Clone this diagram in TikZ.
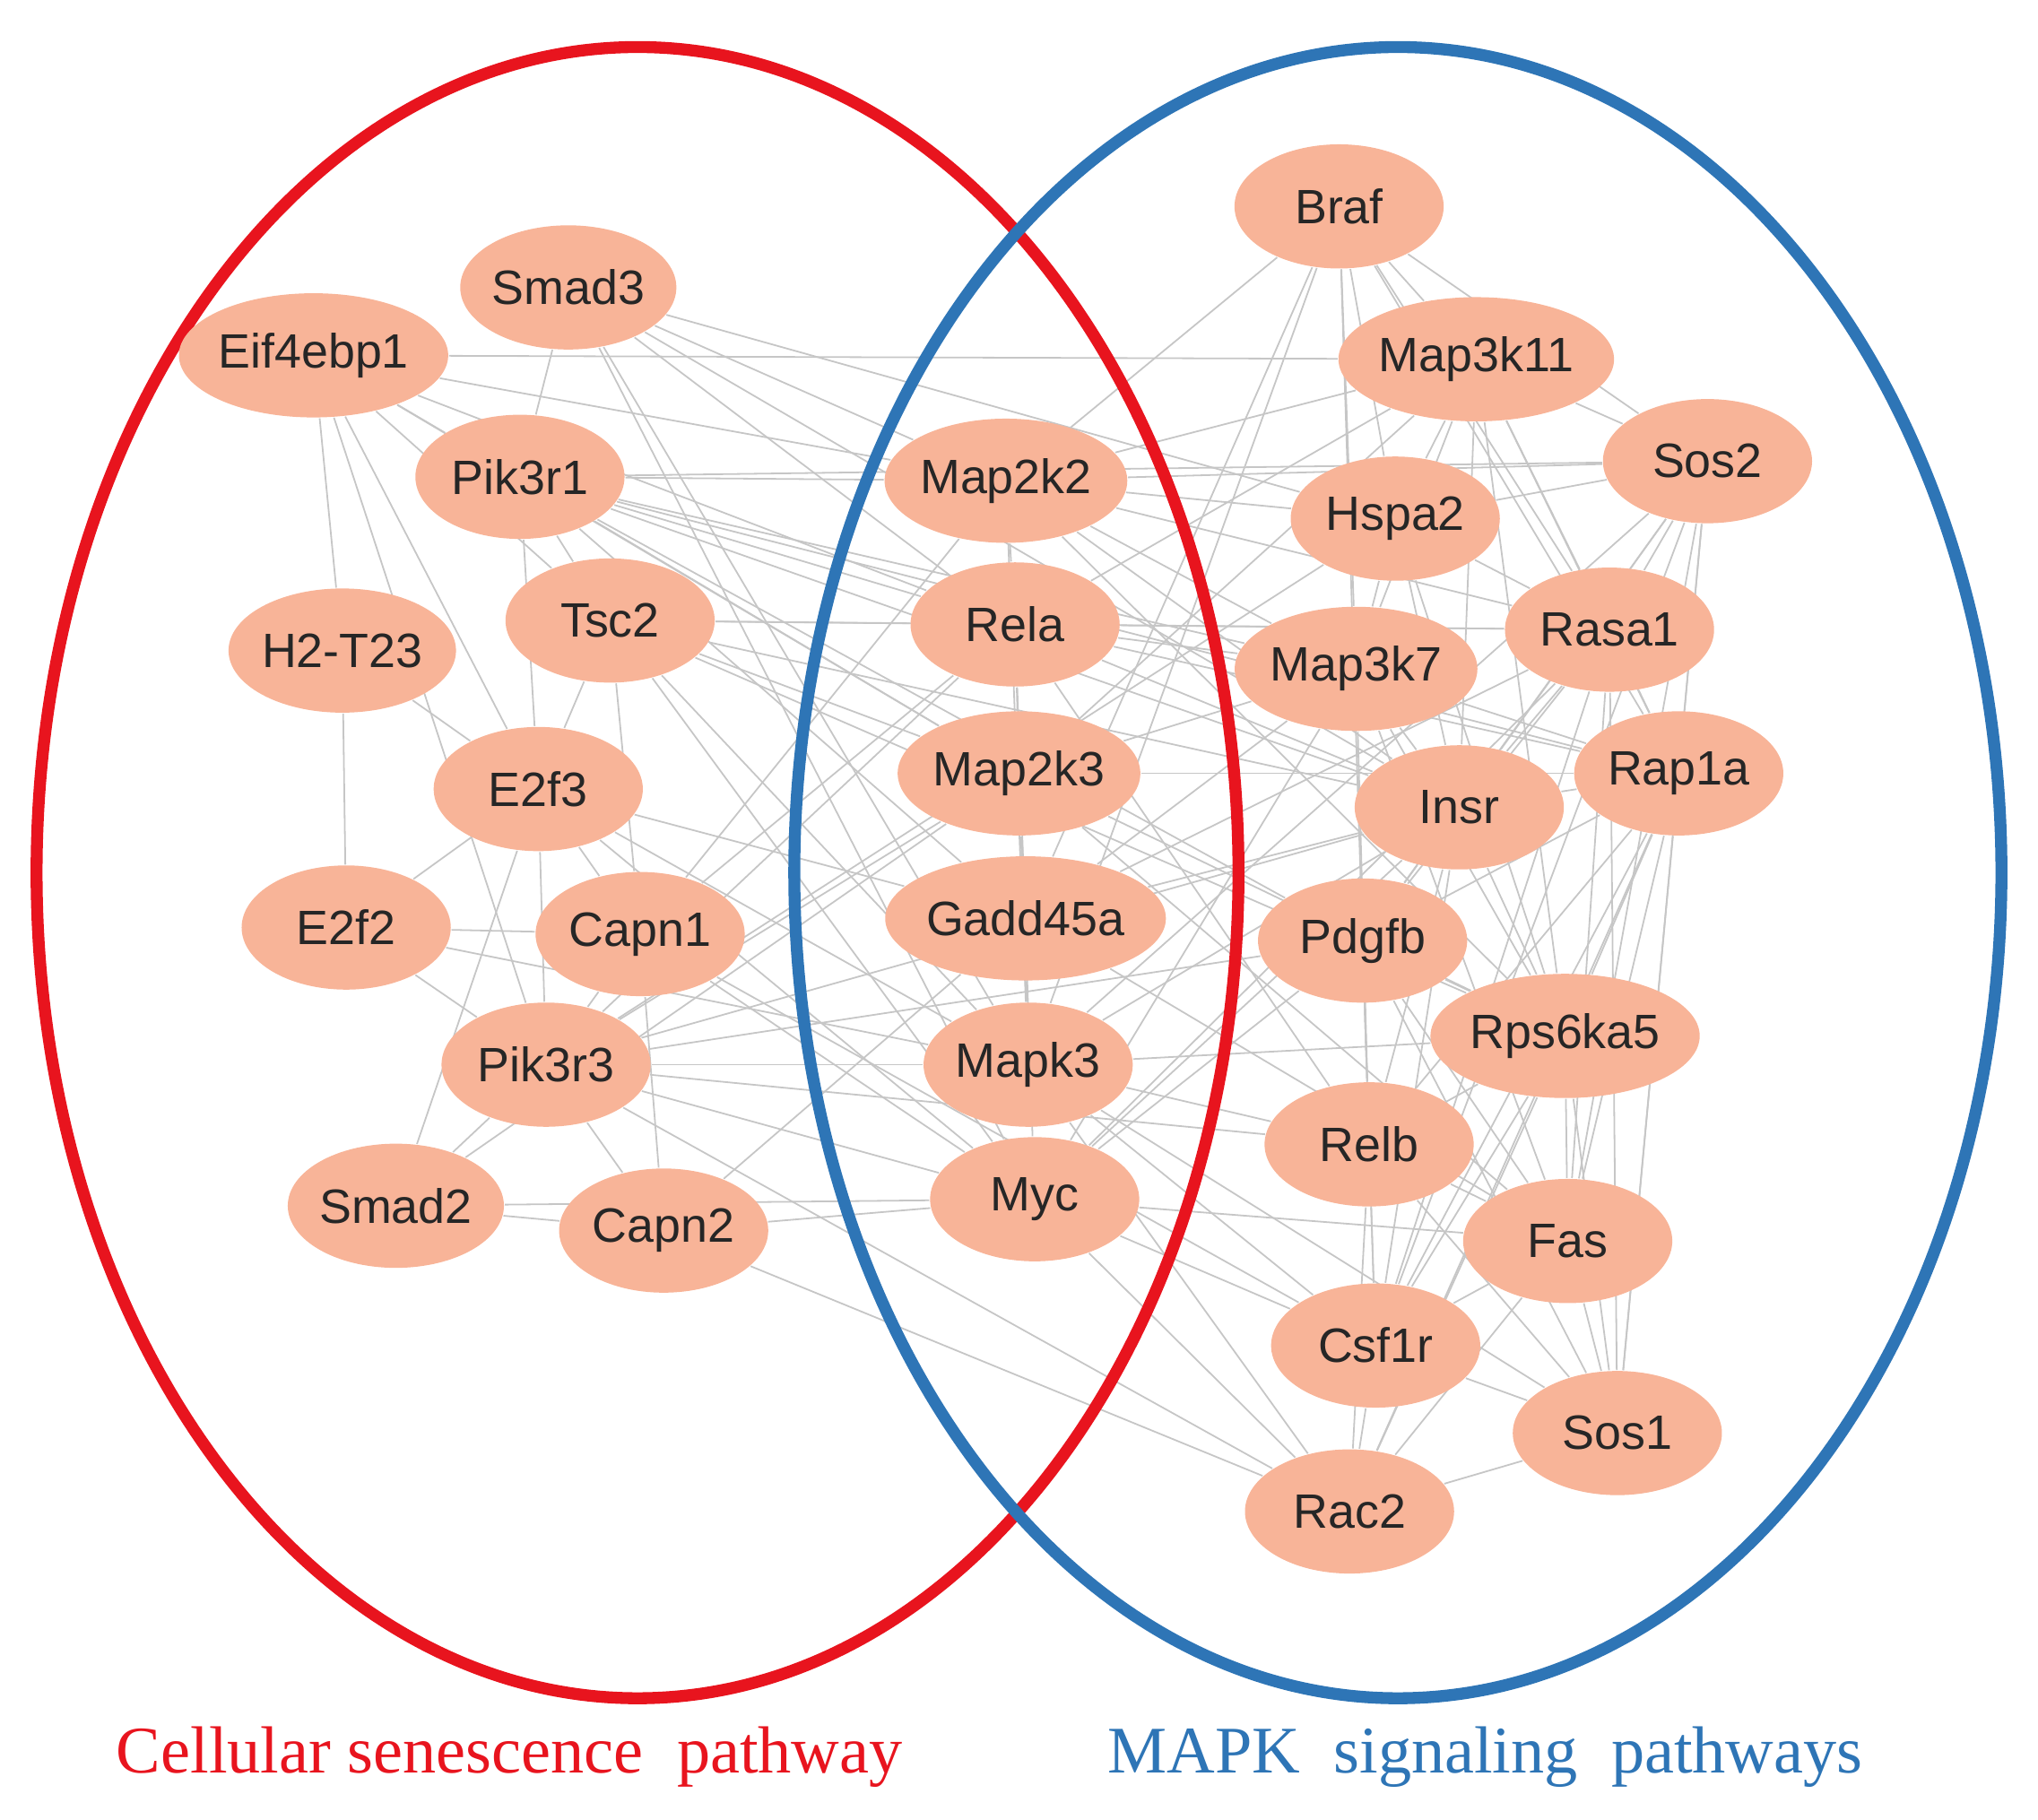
\documentclass[tikz,border=0pt]{standalone}
\usepackage{fontspec}
\setmainfont{Liberation Serif}
\newfontfamily\genefont{Liberation Sans}
\usetikzlibrary{backgrounds,shapes.geometric}
\definecolor{gene}{RGB}{248,180,152}
\definecolor{senred}{RGB}{232,20,30}
\definecolor{mapkblue}{RGB}{46,117,182}
\tikzset{
  gene/.style={ellipse, fill=gene, minimum width=1.6cm, minimum height=0.95cm, inner sep=0pt, text=black!85, font=\genefont\fontsize{10.5}{12}\selectfont},
  link/.style={gray!45, line width=0.35pt}
}
\begin{document}
\begin{tikzpicture}[x=0.01cm, y=-0.01cm]
    \useasboundingbox (0,0) rectangle (1560,1393);
    % Draw pathway circles
    \draw[senred, line width=2.6pt] (488,668) ellipse (460 and 632);
    \draw[mapkblue, line width=2.6pt] (1070,668) ellipse (462 and 632);

    % Genes
    \node[gene] (Braf) at (1025,158) {Braf};
    \node[gene] (Smad3) at (435,220) {Smad3};
    \node[gene] (Eif4ebp1) at (240,272) {Eif4ebp1};
    \node[gene] (Map3k11) at (1130,275) {Map3k11};
    \node[gene] (Sos2) at (1307,353) {Sos2};
    \node[gene] (Pik3r1) at (398,365) {Pik3r1};
    \node[gene] (Map2k2) at (770,368) {Map2k2};
    \node[gene] (Hspa2) at (1068,397) {Hspa2};
    \node[gene] (Tsc2) at (467,475) {Tsc2};
    \node[gene] (H2T23) at (262,498) {H2-T23};
    \node[gene] (Rela) at (777,478) {Rela};
    \node[gene] (Rasa1) at (1232,482) {Rasa1};
    \node[gene] (Map3k7) at (1038,512) {Map3k7};
    \node[gene] (E2f3) at (412,604) {E2f3};
    \node[gene] (Map2k3) at (780,592) {Map2k3};
    \node[gene] (Rap1a) at (1285,592) {Rap1a};
    \node[gene] (Insr) at (1117,618) {Insr};
    \node[gene] (E2f2) at (265,710) {E2f2};
    \node[gene] (Capn1) at (490,715) {Capn1};
    \node[gene] (Gadd45a) at (785,703) {Gadd45a};
    \node[gene] (Pdgfb) at (1043,720) {Pdgfb};
    \node[gene] (Pik3r3) at (418,815) {Pik3r3};
    \node[gene] (Mapk3) at (787,815) {Mapk3};
    \node[gene] (Rps6ka5) at (1198,793) {Rps6ka5};
    \node[gene] (Relb) at (1048,876) {Relb};
    \node[gene] (Smad2) at (303,923) {Smad2};
    \node[gene] (Capn2) at (508,942) {Capn2};
    \node[gene] (Myc) at (792,918) {Myc};
    \node[gene] (Fas) at (1200,950) {Fas};
    \node[gene] (Csf1r) at (1053,1030) {Csf1r};
    \node[gene] (Sos1) at (1238,1097) {Sos1};
    \node[gene] (Rac2) at (1033,1157) {Rac2};

    % Interactions
    \begin{scope}[on background layer]
    \foreach \a/\b in {Eif4ebp1/Pik3r1, Eif4ebp1/Tsc2, Eif4ebp1/H2T23, Eif4ebp1/E2f3, Eif4ebp1/Map3k11,
        Eif4ebp1/Map2k2, Eif4ebp1/Rela, Eif4ebp1/Map2k3, Eif4ebp1/Pik3r3,
        Smad3/Pik3r1, Smad3/Map2k2, Smad3/Rela, Smad3/Hspa2, Smad3/Mapk3, Smad3/Myc, Smad3/Insr,
        Pik3r1/Map2k2, Pik3r1/Sos2, Pik3r1/Tsc2, Pik3r1/E2f3, Pik3r1/Rela, Pik3r1/Map2k3, Pik3r1/Map3k7,
        Pik3r1/Insr, Pik3r1/Pdgfb, Pik3r1/Rap1a, Pik3r1/Gadd45a,
        Tsc2/E2f3, Tsc2/Rela, Tsc2/Map2k3, Tsc2/Capn1, Tsc2/Mapk3, Tsc2/Myc, Tsc2/Rasa1, Tsc2/Insr, Tsc2/Rps6ka5,
        H2T23/E2f3, H2T23/E2f2,
        E2f3/E2f2, E2f3/Smad2, E2f3/Capn1, E2f3/Pik3r3, E2f3/Mapk3, E2f3/Gadd45a, E2f3/Myc,
        E2f2/Capn1, E2f2/Pik3r3, E2f2/Mapk3,
        Capn1/Pik3r3, Capn1/Capn2, Capn1/Map2k2, Capn1/Rela, Capn1/Myc, Capn1/Csf1r,
        Pik3r3/Smad2, Pik3r3/Capn2, Pik3r3/Map2k3, Pik3r3/Rela, Pik3r3/Mapk3, Pik3r3/Myc, Pik3r3/Insr,
        Pik3r3/Pdgfb, Pik3r3/Relb, Pik3r3/Rac2, Pik3r3/Hspa2,
        Smad2/Capn2, Smad2/Myc, Smad2/Map2k3, Capn2/Myc, Capn2/Gadd45a, Capn2/Rac2,
        Map2k2/Braf, Map2k2/Map3k11, Map2k2/Hspa2, Map2k2/Rela, Map2k2/Map3k7, Map2k2/Insr, Map2k2/Rasa1,
        Map2k2/Sos2, Map2k2/Rps6ka5,
        Rela/Map3k7, Rela/Rasa1, Rela/Relb, Rela/Map2k3, Rela/Insr, Rela/Myc, Rela/Map3k11, Rela/Rap1a,
        Map2k3/Map3k7, Map2k3/Mapk3, Map2k3/Gadd45a, Map2k3/Rps6ka5, Map2k3/Fas, Map2k3/Map3k11, Map2k3/Rap1a,
        Gadd45a/Map3k7, Gadd45a/Mapk3, Gadd45a/Rasa1, Gadd45a/Braf, Gadd45a/Insr, Gadd45a/Fas,
        Mapk3/Rps6ka5, Mapk3/Braf, Mapk3/Map2k2, Mapk3/Relb, Mapk3/Insr, Mapk3/Csf1r, Mapk3/Rac2, Mapk3/Sos1, Mapk3/Sos2,
        Myc/Pdgfb, Myc/Csf1r, Myc/Rac2, Myc/Fas, Myc/Insr, Myc/Rasa1, Myc/Map3k7,
        Braf/Map3k11, Braf/Rasa1, Braf/Rap1a, Braf/Map3k7, Braf/Hspa2, Braf/Sos2, Braf/Relb,
        Map3k11/Hspa2, Map3k11/Sos2, Map3k11/Map3k7, Map3k11/Rasa1, Map3k11/Rap1a, Map3k11/Insr, Map3k11/Rps6ka5,
        Sos2/Rasa1, Sos2/Rap1a, Sos2/Insr, Sos2/Pdgfb, Sos2/Hspa2, Sos2/Fas, Sos2/Sos1, Sos2/Csf1r,
        Hspa2/Map3k7, Hspa2/Insr, Hspa2/Rasa1, Hspa2/Rps6ka5,
        Rasa1/Rap1a, Rasa1/Insr, Rasa1/Pdgfb, Rasa1/Fas, Rasa1/Sos1, Rasa1/Csf1r,
        Map3k7/Insr, Map3k7/Relb, Map3k7/Rps6ka5, Map3k7/Rap1a, Map3k7/Fas,
        Rap1a/Insr, Rap1a/Pdgfb, Rap1a/Rps6ka5, Rap1a/Fas, Rap1a/Sos1, Rap1a/Csf1r, Rap1a/Rac2, Rap1a/Relb,
        Insr/Pdgfb, Insr/Rps6ka5, Insr/Csf1r, Insr/Relb,
        Pdgfb/Rps6ka5, Pdgfb/Relb, Pdgfb/Csf1r, Pdgfb/Fas, Pdgfb/Sos1,
        Rps6ka5/Relb, Rps6ka5/Fas, Rps6ka5/Sos1, Rps6ka5/Csf1r, Rps6ka5/Rac2,
        Relb/Fas, Relb/Csf1r, Relb/Rac2, Relb/Sos1, Fas/Csf1r, Fas/Sos1, Fas/Rac2,
        Csf1r/Sos1, Csf1r/Rac2, Sos1/Rac2}
        \draw[link] (\a) -- (\b);
    \end{scope}

    % Labels
    \node[senred, font=\fontsize{14.5}{16}\selectfont] (senlabel) at (390,1345) {Cellular senescence\ \ pathway};
    \node[mapkblue, font=\fontsize{14.5}{16}\selectfont] (mapklabel) at (1137,1345) {MAPK\ \ signaling\ \ pathways};
\end{tikzpicture}
\end{document}
